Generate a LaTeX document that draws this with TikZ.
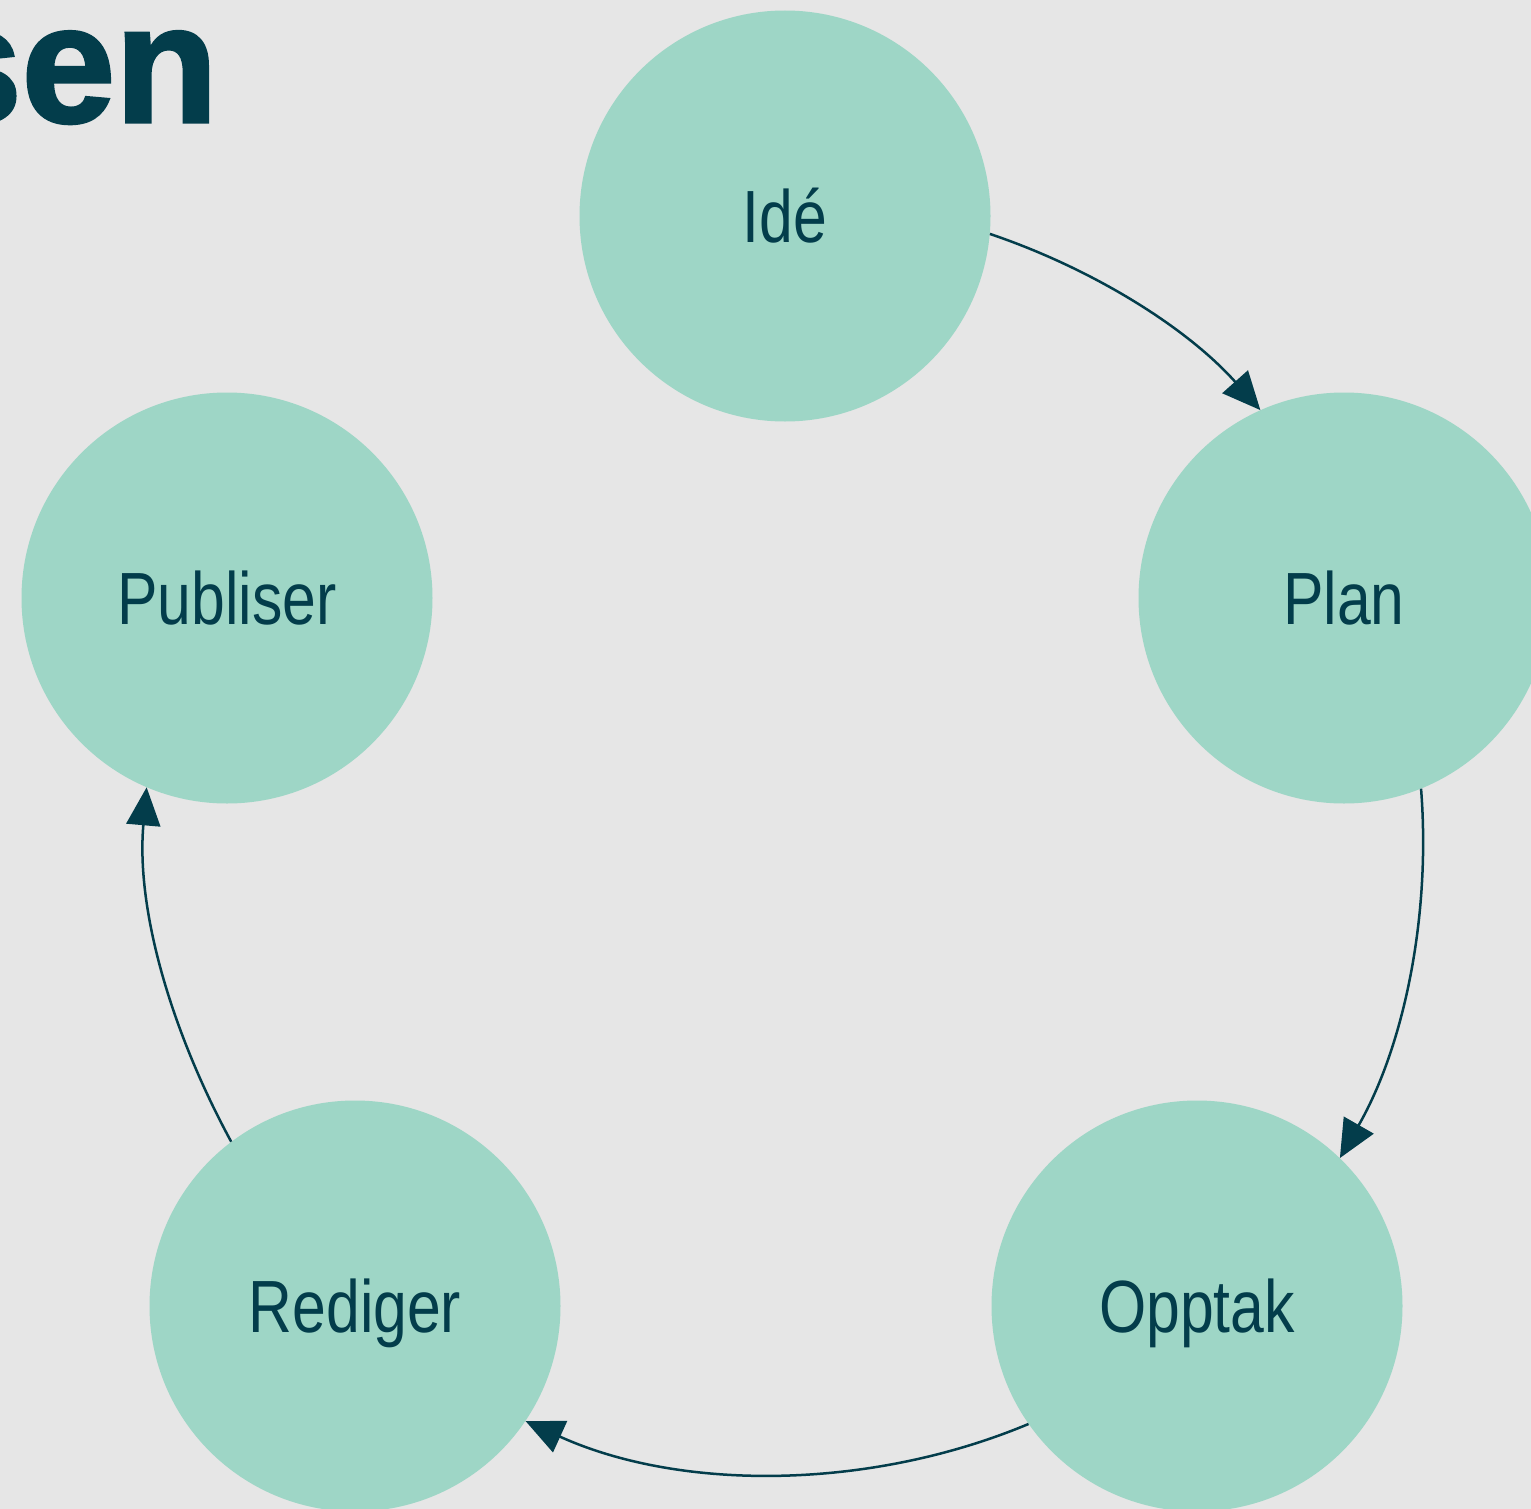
\documentclass[tikz,border=0pt]{standalone}
\usepackage{fontspec}
\setmainfont{Liberation Sans}
\newfontfamily\labelfont[FakeStretch=0.82]{Liberation Sans}
\newfontfamily\titlefont[FakeBold=2]{Liberation Sans Bold}
\usetikzlibrary{arrows.meta}
\definecolor{bgc}{HTML}{E6E6E6}
\definecolor{fillc}{HTML}{9ED6C6}
\definecolor{darkc}{HTML}{033D4B}
\tikzset{
  stage/.style={circle, fill=fillc, draw=none, minimum size=411pt, inner sep=0pt,
    text=darkc, font=\labelfont\fontsize{74}{80}\selectfont, text height=53pt, text depth=0pt},
  flow/.style={draw=darkc, line width=2.5pt, -{Triangle[length=38pt,width=34pt]}, looseness=0.87},
}
\begin{document}
\begin{tikzpicture}[x=1pt,y=1pt]
\fill[bgc] (0,0) rectangle (1531,-1509);
\useasboundingbox (0,0) rectangle (1531,-1509);
\node[anchor=base east, text=darkc, font=\titlefont\fontsize{168}{170}\selectfont, inner sep=0pt] (title) at (218,-122) {sen};
\node[stage] (ide) at (785,-216) {Idé};
\node[stage] (plan) at (1344,-598) {Plan};
\node[stage] (opptak) at (1197,-1306) {Opptak};
\node[stage] (rediger) at (355,-1306) {Rediger};
\node[stage] (publiser) at (227,-598) {Publiser};
\draw[flow] (ide.-5.6) to[out=-18.7, in=131.7] (plan.114.1);
\draw[flow] (plan.-68.4) to[out=-85.5, in=60.2] (opptak.46.6);
\draw[flow] (opptak.215.9) to[out=-157.3, in=-24.4] (rediger.-34.3);
\draw[flow] (rediger.127.9) to[out=118.5, in=-95] (publiser.247.6);
\end{tikzpicture}
\end{document}
